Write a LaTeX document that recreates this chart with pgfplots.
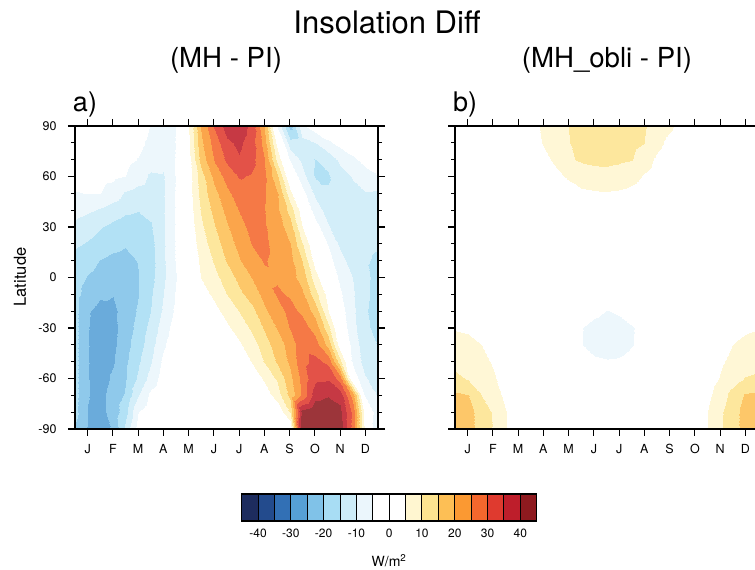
\documentclass[border=0pt]{standalone}
\usepackage{pgfplots}
\pgfplotsset{compat=1.18}
\usepackage{fontspec}
\setmainfont{TeX Gyre Heros}
\newcommand{\fs}[1]{\fontsize{#1}{#1}\selectfont}

\definecolor{c01}{HTML}{1D2C5E}
\definecolor{c02}{HTML}{234B8D}
\definecolor{c03}{HTML}{3270B5}
\definecolor{c04}{HTML}{56A0D6}
\definecolor{c05}{HTML}{80C2E8}
\definecolor{c06}{HTML}{A8DDF4}
\definecolor{c07}{HTML}{CDECF8}
\definecolor{c08}{HTML}{EBF6FC}
\definecolor{c09}{HTML}{FFFFFF}
\definecolor{c10}{HTML}{FFFFFF}
\definecolor{c11}{HTML}{FFF6D0}
\definecolor{c12}{HTML}{FDE490}
\definecolor{c13}{HTML}{FDBF55}
\definecolor{c14}{HTML}{FB9932}
\definecolor{c15}{HTML}{F4672D}
\definecolor{c16}{HTML}{DF3A2F}
\definecolor{c17}{HTML}{BE1E2B}
\definecolor{c18}{HTML}{8E1A1F}

\pgfplotsset{
  colormap={insobar}{color=(c01) color=(c02) color=(c03) color=(c04) color=(c05) color=(c06)
    color=(c07) color=(c08) color=(c09) color=(c10) color=(c11) color=(c12) color=(c13)
    color=(c14) color=(c15) color=(c16) color=(c17) color=(c18)},
  colormap={insopanel}{color=(c01!88!white) color=(c02!88!white) color=(c03!88!white)
    color=(c04!88!white) color=(c05!88!white) color=(c06!88!white) color=(c07!88!white)
    color=(c08!88!white) color=(c09) color=(c10) color=(c11!88!white) color=(c12!88!white)
    color=(c13!88!white) color=(c14!88!white) color=(c15!88!white) color=(c16!88!white)
    color=(c17!88!white) color=(c18!88!white)},
  inso panel/.style={
    anchor=south west, scale only axis, width=303pt, height=303pt,
    xmin=0, xmax=12, ymin=-90, ymax=90, enlargelimits=false,
    colormap name=insopanel, colormap access=piecewise constant,
    point meta min=-45, point meta max=45,
    axis on top, tick pos=both, tick align=outside,
    xtick={0.5,1.5,...,11.5}, xticklabels={J,F,M,A,M,J,J,A,S,O,N,D},
    ytick={-90,-60,...,90}, yticklabels={-90,-60,-30,0,30,60,90},
    minor ytick={-80,-70,-50,-40,-20,-10,10,20,40,50,70,80},
    major tick length=7pt, minor tick length=4pt,
    every tick/.style={black, line width=1.2pt},
    axis line style={black, line width=1.6pt},
    tick label style={font=\fs{12.5}},
    xticklabel style={yshift=-5pt}, yticklabel style={xshift=-8pt},
  },
  inso surf/.style={surf, shader=interp, mesh/rows=19, mesh/cols=25, point meta=explicit},
}

\begin{document}
\begin{tikzpicture}
\path[use as bounding box] (0pt,0pt) rectangle (755pt,570pt);

% a) MH - PI
\begin{axis}[inso panel, at={(75pt,141pt)}]
\addplot[inso surf] coordinates {
(0,-90)[-20.5] (0.5,-90)[-25.5] (1,-90)[-26.5] (1.5,-90)[-24.5] (2,-90)[-14] (2.5,-90)[-3] (3,-90)[-0.5] (3.5,-90)[0] (4,-90)[0] (4.5,-90)[0] (5,-90)[0] (5.5,-90)[0] (6,-90)[0] (6.5,-90)[0] (7,-90)[0] (7.5,-90)[0] (8,-90)[0] (8.5,-90)[0] (9,-90)[46] (9.5,-90)[48] (10,-90)[48] (10.5,-90)[43] (11,-90)[28] (11.5,-90)[3] (12,-90)[-11]
(0,-80)[-18.5] (0.5,-80)[-25.2] (1,-80)[-26.5] (1.5,-80)[-23] (2,-80)[-17] (2.5,-80)[-5.2] (3,-80)[-1.5] (3.5,-80)[-0.5] (4,-80)[0] (4.5,-80)[0] (5,-80)[0] (5.5,-80)[0] (6,-80)[0] (6.5,-80)[0] (7,-80)[0] (7.5,-80)[0] (8,-80)[0.5] (8.5,-80)[10.5] (9,-80)[42] (9.5,-80)[45] (10,-80)[45.5] (10.5,-80)[41.5] (11,-80)[28] (11.5,-80)[2] (12,-80)[-9]
(0,-70)[-18.5] (0.5,-70)[-24.8] (1,-70)[-26.5] (1.5,-70)[-23] (2,-70)[-19.5] (2.5,-70)[-10.5] (3,-70)[-3.5] (3.5,-70)[-1] (4,-70)[-0.2] (4.5,-70)[0] (5,-70)[0] (5.5,-70)[0] (6,-70)[0] (6.5,-70)[0] (7,-70)[0.5] (7.5,-70)[2] (8,-70)[7.5] (8.5,-70)[16.5] (9,-70)[26] (9.5,-70)[37.5] (10,-70)[39.5] (10.5,-70)[38] (11,-70)[22] (11.5,-70)[-5.5] (12,-70)[-10.5]
(0,-60)[-18.5] (0.5,-60)[-24.8] (1,-60)[-27.5] (1.5,-60)[-24] (2,-60)[-20.5] (2.5,-60)[-14.2] (3,-60)[-8] (3.5,-60)[-2.5] (4,-60)[-0.5] (4.5,-60)[0] (5,-60)[0] (5.5,-60)[0.2] (6,-60)[0.5] (6.5,-60)[1] (7,-60)[2.5] (7.5,-60)[5.5] (8,-60)[10.5] (8.5,-60)[18.5] (9,-60)[26.5] (9.5,-60)[34] (10,-60)[34.5] (10.5,-60)[28] (11,-60)[-1.5] (11.5,-60)[-9.5] (12,-60)[-12]
(0,-50)[-18.5] (0.5,-50)[-24.8] (1,-50)[-28] (1.5,-50)[-25.5] (2,-50)[-21] (2.5,-50)[-15.8] (3,-50)[-10.2] (3.5,-50)[-4] (4,-50)[-1] (4.5,-50)[0] (5,-50)[0.2] (5.5,-50)[0.5] (6,-50)[1] (6.5,-50)[2.2] (7,-50)[5.2] (7.5,-50)[10.2] (8,-50)[15.5] (8.5,-50)[21] (9,-50)[28.5] (9.5,-50)[31.5] (10,-50)[29] (10.5,-50)[12] (11,-50)[-6] (11.5,-50)[-12] (12,-50)[-13]
(0,-40)[-18.5] (0.5,-40)[-24.8] (1,-40)[-27.8] (1.5,-40)[-26] (2,-40)[-22] (2.5,-40)[-17.3] (3,-40)[-11.8] (3.5,-40)[-5.7] (4,-40)[-1.5] (4.5,-40)[0] (5,-40)[0.5] (5.5,-40)[1.2] (6,-40)[2.3] (6.5,-40)[4.3] (7,-40)[7.7] (7.5,-40)[12.5] (8,-40)[17.5] (8.5,-40)[22] (9,-40)[28.5] (9.5,-40)[27.5] (10,-40)[18.5] (10.5,-40)[2] (11,-40)[-7] (11.5,-40)[-13] (12,-40)[-15.2]
(0,-30)[-18.5] (0.5,-30)[-24.8] (1,-30)[-27.5] (1.5,-30)[-26.5] (2,-30)[-22.5] (2.5,-30)[-18.5] (3,-30)[-13.3] (3.5,-30)[-7.5] (4,-30)[-2.5] (4.5,-30)[0] (5,-30)[1] (5.5,-30)[2.3] (6,-30)[4.2] (6.5,-30)[6.8] (7,-30)[11] (7.5,-30)[15.5] (8,-30)[20.2] (8.5,-30)[25.2] (9,-30)[27.5] (9.5,-30)[23] (10,-30)[12] (10.5,-30)[-1] (11,-30)[-8.5] (11.5,-30)[-14] (12,-30)[-16.5]
(0,-20)[-18.5] (0.5,-20)[-24.5] (1,-20)[-26.5] (1.5,-20)[-26] (2,-20)[-23] (2.5,-20)[-19.5] (3,-20)[-14.8] (3.5,-20)[-9.3] (4,-20)[-3.8] (4.5,-20)[0] (5,-20)[1.5] (5.5,-20)[3.5] (6,-20)[6.8] (6.5,-20)[10.2] (7,-20)[13.5] (7.5,-20)[19] (8,-20)[23] (8.5,-20)[26.5] (9,-20)[24] (9.5,-20)[18] (10,-20)[5.2] (10.5,-20)[-2.5] (11,-20)[-9] (11.5,-20)[-14.5] (12,-20)[-17]
(0,-10)[-18.5] (0.5,-10)[-22] (1,-10)[-24.3] (1.5,-10)[-24.8] (2,-10)[-23] (2.5,-10)[-20.2] (3,-10)[-15.5] (3.5,-10)[-10.2] (4,-10)[-4.5] (4.5,-10)[0] (5,-10)[3] (5.5,-10)[6] (6,-10)[10.2] (6.5,-10)[13.8] (7,-10)[17.5] (7.5,-10)[21.5] (8,-10)[25.6] (8.5,-10)[24.5] (9,-10)[21] (9.5,-10)[12] (10,-10)[3] (10.5,-10)[-4.3] (11,-10)[-9.5] (11.5,-10)[-14] (12,-10)[-17]
(0,0)[-18] (0.5,0)[-20.3] (1,0)[-22] (1.5,0)[-23] (2,0)[-22.5] (2.5,0)[-20.2] (3,0)[-16.5] (3.5,0)[-11] (4,0)[-5.2] (4.5,0)[0.5] (5,0)[5.2] (5.5,0)[8.5] (6,0)[12.5] (6.5,0)[16.5] (7,0)[20.3] (7.5,0)[24] (8,0)[24.5] (8.5,0)[22] (9,0)[18] (9.5,0)[7] (10,0)[-1] (10.5,0)[-6] (11,0)[-10.2] (11.5,0)[-14] (12,0)[-16.5]
(0,10)[-16.5] (0.5,10)[-18] (1,10)[-20.2] (1.5,10)[-21.5] (2,10)[-21.8] (2.5,10)[-19.8] (3,10)[-16.8] (3.5,10)[-11] (4,10)[-4.5] (4.5,10)[1] (5,10)[6] (5.5,10)[10.5] (6,10)[15.5] (6.5,10)[19.5] (7,10)[23] (7.5,10)[25.3] (8,10)[24] (8.5,10)[21.5] (9,10)[15.2] (9.5,10)[3] (10,10)[-3] (10.5,10)[-8] (11,10)[-12.5] (11.5,10)[-14.5] (12,10)[-15.8]
(0,20)[-14.3] (0.5,20)[-15.5] (1,20)[-17] (1.5,20)[-18.5] (2,20)[-19.5] (2.5,20)[-19] (3,20)[-16.5] (3.5,20)[-10.8] (4,20)[-4.5] (4.5,20)[1.5] (5,20)[7.5] (5.5,20)[12.5] (6,20)[17.5] (6.5,20)[21.5] (7,20)[25.2] (7.5,20)[25.8] (8,20)[23.5] (8.5,20)[20.2] (9,20)[10.5] (9.5,20)[0] (10,20)[-5.2] (10.5,20)[-11] (11,20)[-13] (11.5,20)[-14] (12,20)[-14.5]
(0,30)[-11.5] (0.5,30)[-13] (1,30)[-14.7] (1.5,30)[-16.3] (2,30)[-17.5] (2.5,30)[-17.5] (3,30)[-15.5] (3.5,30)[-10.5] (4,30)[-4.5] (4.5,30)[2] (5,30)[9] (5.5,30)[14.5] (6,30)[19.5] (6.5,30)[23.5] (7,30)[26.3] (7.5,30)[25.5] (8,30)[22.5] (8.5,30)[17.5] (9,30)[5.2] (9.5,30)[-2.5] (10,30)[-9.5] (10.5,30)[-12.5] (11,30)[-13] (11.5,30)[-13] (12,30)[-13]
(0,40)[-8] (0.5,40)[-9.2] (1,40)[-10.5] (1.5,40)[-12.5] (2,40)[-14] (2.5,40)[-14.8] (3,40)[-13.8] (3.5,40)[-10.5] (4,40)[-4.5] (4.5,40)[2.5] (5,40)[10.5] (5.5,40)[16.5] (6,40)[21.5] (6.5,40)[25.2] (7,40)[26.8] (7.5,40)[25.2] (8,40)[21] (8.5,40)[13] (9,40)[2] (9.5,40)[-7.5] (10,40)[-12] (10.5,40)[-13] (11,40)[-12.5] (11.5,40)[-11.5] (12,40)[-11]
(0,50)[-5.3] (0.5,50)[-4.8] (1,50)[-4.9] (1.5,50)[-7] (2,50)[-10.5] (2.5,50)[-12] (3,50)[-12.5] (3.5,50)[-10.5] (4,50)[-4.5] (4.5,50)[3] (5,50)[12] (5.5,50)[18.5] (6,50)[24] (6.5,50)[27.5] (7,50)[27.8] (7.5,50)[25.5] (8,50)[20.5] (8.5,50)[6.5] (9,50)[-3] (9.5,50)[-11] (10,50)[-14.5] (10.5,50)[-13] (11,50)[-11.5] (11.5,50)[-10.2] (12,50)[-10.5]
(0,60)[-3] (0.5,60)[-3] (1,60)[-3.5] (1.5,60)[-4] (2,60)[-4.9] (2.5,60)[-7.5] (3,60)[-11] (3.5,60)[-10.5] (4,60)[-4.6] (4.5,60)[3] (5,60)[13] (5.5,60)[21.5] (6,60)[27] (6.5,60)[30.5] (7,60)[29.5] (7.5,60)[26] (8,60)[16] (8.5,60)[0] (9,60)[-8] (9.5,60)[-15.5] (10,60)[-15.5] (10.5,60)[-12] (11,60)[-9.5] (11.5,60)[-7] (12,60)[-5.2]
(0,70)[-2] (0.5,70)[-2] (1,70)[-2.5] (1.5,70)[-3] (2,70)[-3.8] (2.5,70)[-5.2] (3,70)[-7] (3.5,70)[-8.5] (4,70)[-4.7] (4.5,70)[3.5] (5,70)[17] (5.5,70)[25.2] (6,70)[31] (6.5,70)[34.5] (7,70)[31.5] (7.5,70)[25.5] (8,70)[9] (8.5,70)[-5.2] (9,70)[-11] (9.5,70)[-15.2] (10,70)[-13.5] (10.5,70)[-9] (11,70)[-6] (11.5,70)[-3.5] (12,70)[-2.5]
(0,80)[-1.5] (0.5,80)[-1.5] (1,80)[-2] (1.5,80)[-2.5] (2,80)[-3] (2.5,80)[-4] (3,80)[-6] (3.5,80)[-8] (4,80)[-4.8] (4.5,80)[4.8] (5,80)[19] (5.5,80)[27] (6,80)[34] (6.5,80)[36] (7,80)[32] (7.5,80)[23] (8,80)[3.5] (8.5,80)[-13] (9,80)[-12] (9.5,80)[-10.2] (10,80)[-6] (10.5,80)[-3.5] (11,80)[-2] (11.5,80)[-1.5] (12,80)[-1]
(0,90)[-1] (0.5,90)[-1] (1,90)[-1] (1.5,90)[-1.5] (2,90)[-2] (2.5,90)[-3] (3,90)[-5.2] (3.5,90)[-7.5] (4,90)[-4.8] (4.5,90)[5.2] (5,90)[20.5] (5.5,90)[30.5] (6,90)[37.5] (6.5,90)[38.5] (7,90)[33] (7.5,90)[20.2] (8,90)[-5.2] (8.5,90)[-22] (9,90)[-6] (9.5,90)[-2] (10,90)[-1] (10.5,90)[-0.5] (11,90)[-0.5] (11.5,90)[-0.5] (12,90)[-0.5]
};
\end{axis}

% b) MH_obli - PI
\begin{axis}[inso panel, at={(455pt,141pt)}, yticklabels={}]
\addplot[inso surf] coordinates {
(0,-90)[18.5] (0.5,-90)[17] (1,-90)[13.5] (1.5,-90)[9.8] (2,-90)[5.3] (2.5,-90)[1.5] (3,-90)[0] (3.5,-90)[0] (4,-90)[0] (4.5,-90)[0] (5,-90)[0] (5.5,-90)[0] (6,-90)[0] (6.5,-90)[0] (7,-90)[0] (7.5,-90)[0] (8,-90)[0] (8.5,-90)[0] (9,-90)[0] (9.5,-90)[1.5] (10,-90)[5.2] (10.5,-90)[9.3] (11,-90)[13] (11.5,-90)[17] (12,-90)[18.5]
(0,-80)[18] (0.5,-80)[16.5] (1,-80)[13.5] (1.5,-80)[9.5] (2,-80)[5.1] (2.5,-80)[2] (3,-80)[0] (3.5,-80)[0] (4,-80)[0] (4.5,-80)[0] (5,-80)[0] (5.5,-80)[0] (6,-80)[0] (6.5,-80)[0] (7,-80)[0] (7.5,-80)[0] (8,-80)[0] (8.5,-80)[0] (9,-80)[0] (9.5,-80)[1.5] (10,-80)[5.2] (10.5,-80)[9.2] (11,-80)[13] (11.5,-80)[17] (12,-80)[18]
(0,-70)[16] (0.5,-70)[15.1] (1,-70)[10.3] (1.5,-70)[6.8] (2,-70)[4] (2.5,-70)[1.5] (3,-70)[0] (3.5,-70)[0] (4,-70)[0] (4.5,-70)[0] (5,-70)[0] (5.5,-70)[0] (6,-70)[0] (6.5,-70)[0] (7,-70)[0] (7.5,-70)[0] (8,-70)[0] (8.5,-70)[0] (9,-70)[0] (9.5,-70)[1] (10,-70)[4] (10.5,-70)[7.5] (11,-70)[12] (11.5,-70)[15.5] (12,-70)[16]
(0,-60)[11] (0.5,-60)[9.8] (1,-60)[8] (1.5,-60)[5.6] (2,-60)[3.3] (2.5,-60)[1.5] (3,-60)[0] (3.5,-60)[0] (4,-60)[0] (4.5,-60)[0] (5,-60)[0] (5.5,-60)[0] (6,-60)[0] (6.5,-60)[0] (7,-60)[0] (7.5,-60)[0] (8,-60)[0] (8.5,-60)[0] (9,-60)[0] (9.5,-60)[0] (10,-60)[3] (10.5,-60)[5.3] (11,-60)[7.8] (11.5,-60)[10.3] (12,-60)[11]
(0,-50)[8.8] (0.5,-50)[8] (1,-50)[6.5] (1.5,-50)[4.6] (2,-50)[2.8] (2.5,-50)[1.2] (3,-50)[0] (3.5,-50)[0] (4,-50)[0] (4.5,-50)[0] (5,-50)[-4] (5.5,-50)[-4.6] (6,-50)[-4.8] (6.5,-50)[-4.7] (7,-50)[-4.2] (7.5,-50)[-2] (8,-50)[0] (8.5,-50)[0] (9,-50)[0] (9.5,-50)[0] (10,-50)[2.5] (10.5,-50)[4.3] (11,-50)[6.3] (11.5,-50)[7.8] (12,-50)[8.8]
(0,-40)[7] (0.5,-40)[6.3] (1,-40)[5.2] (1.5,-40)[3.5] (2,-40)[2] (2.5,-40)[1] (3,-40)[0] (3.5,-40)[0] (4,-40)[0] (4.5,-40)[-3.8] (5,-40)[-4.9] (5.5,-40)[-5.7] (6,-40)[-6] (6.5,-40)[-5.8] (7,-40)[-5.1] (7.5,-40)[-4] (8,-40)[-2] (8.5,-40)[0] (9,-40)[0] (9.5,-40)[0] (10,-40)[1.5] (10.5,-40)[3] (11,-40)[5.1] (11.5,-40)[6.3] (12,-40)[7]
(0,-30)[4.7] (0.5,-30)[4.3] (1,-30)[3.5] (1.5,-30)[2.2] (2,-30)[1] (2.5,-30)[0] (3,-30)[0] (3.5,-30)[0] (4,-30)[0] (4.5,-30)[-3.8] (5,-30)[-4.9] (5.5,-30)[-5.8] (6,-30)[-6.3] (6.5,-30)[-6.1] (7,-30)[-5.2] (7.5,-30)[-4.2] (8,-30)[-2.5] (8.5,-30)[0] (9,-30)[0] (9.5,-30)[0] (10,-30)[0] (10.5,-30)[1.5] (11,-30)[3] (11.5,-30)[4.2] (12,-30)[4.7]
(0,-20)[1.5] (0.5,-20)[1.2] (1,-20)[0.8] (1.5,-20)[0] (2,-20)[0] (2.5,-20)[0] (3,-20)[0] (3.5,-20)[0] (4,-20)[0] (4.5,-20)[-2] (5,-20)[-3.5] (5.5,-20)[-4.3] (6,-20)[-5.1] (6.5,-20)[-4.6] (7,-20)[-3.5] (7.5,-20)[-2] (8,-20)[0] (8.5,-20)[0] (9,-20)[0] (9.5,-20)[0] (10,-20)[0] (10.5,-20)[0] (11,-20)[0] (11.5,-20)[1] (12,-20)[1.5]
(0,-10)[0] (0.5,-10)[0] (1,-10)[0] (1.5,-10)[0] (2,-10)[0] (2.5,-10)[0] (3,-10)[0] (3.5,-10)[0] (4,-10)[0] (4.5,-10)[0] (5,-10)[0] (5.5,-10)[-2] (6,-10)[-2.5] (6.5,-10)[-2] (7,-10)[0] (7.5,-10)[0] (8,-10)[0] (8.5,-10)[0] (9,-10)[0] (9.5,-10)[0] (10,-10)[0] (10.5,-10)[0] (11,-10)[0] (11.5,-10)[0] (12,-10)[0]
(0,0)[0] (0.5,0)[0] (1,0)[0] (1.5,0)[0] (2,0)[0] (2.5,0)[0] (3,0)[0] (3.5,0)[0] (4,0)[0] (4.5,0)[0] (5,0)[0] (5.5,0)[0] (6,0)[0] (6.5,0)[0] (7,0)[0] (7.5,0)[0] (8,0)[0] (8.5,0)[0] (9,0)[0] (9.5,0)[0] (10,0)[0] (10.5,0)[0] (11,0)[0] (11.5,0)[0] (12,0)[0]
(0,10)[0] (0.5,10)[0] (1,10)[0] (1.5,10)[0] (2,10)[0] (2.5,10)[0] (3,10)[0] (3.5,10)[0] (4,10)[0] (4.5,10)[0] (5,10)[0] (5.5,10)[0] (6,10)[0] (6.5,10)[0] (7,10)[0] (7.5,10)[0] (8,10)[0] (8.5,10)[0] (9,10)[0] (9.5,10)[0] (10,10)[0] (10.5,10)[0] (11,10)[0] (11.5,10)[0] (12,10)[0]
(0,20)[0] (0.5,20)[0] (1,20)[0] (1.5,20)[0] (2,20)[0] (2.5,20)[0] (3,20)[0] (3.5,20)[0] (4,20)[0] (4.5,20)[0] (5,20)[0] (5.5,20)[0] (6,20)[0] (6.5,20)[0] (7,20)[0] (7.5,20)[0] (8,20)[0] (8.5,20)[0] (9,20)[0] (9.5,20)[0] (10,20)[0] (10.5,20)[0] (11,20)[0] (11.5,20)[0] (12,20)[0]
(0,30)[0] (0.5,30)[0] (1,30)[0] (1.5,30)[0] (2,30)[0] (2.5,30)[0] (3,30)[0] (3.5,30)[0] (4,30)[0] (4.5,30)[0] (5,30)[0] (5.5,30)[0] (6,30)[0] (6.5,30)[0] (7,30)[0] (7.5,30)[0] (8,30)[0] (8.5,30)[0] (9,30)[0] (9.5,30)[0] (10,30)[0] (10.5,30)[0] (11,30)[0] (11.5,30)[0] (12,30)[0]
(0,40)[0] (0.5,40)[0] (1,40)[0] (1.5,40)[0] (2,40)[0] (2.5,40)[0] (3,40)[0] (3.5,40)[0] (4,40)[0] (4.5,40)[0] (5,40)[0.5] (5.5,40)[1] (6,40)[1] (6.5,40)[1] (7,40)[0.5] (7.5,40)[0] (8,40)[0] (8.5,40)[0] (9,40)[0] (9.5,40)[0] (10,40)[0] (10.5,40)[0] (11,40)[0] (11.5,40)[0] (12,40)[0]
(0,50)[0] (0.5,50)[0] (1,50)[0] (1.5,50)[0] (2,50)[0] (2.5,50)[0] (3,50)[0] (3.5,50)[0] (4,50)[1.5] (4.5,50)[3] (5,50)[4] (5.5,50)[4.5] (6,50)[4.6] (6.5,50)[4.3] (7,50)[3.5] (7.5,50)[2.2] (8,50)[1] (8.5,50)[0] (9,50)[0] (9.5,50)[0] (10,50)[0] (10.5,50)[0] (11,50)[0] (11.5,50)[0] (12,50)[0]
(0,60)[0] (0.5,60)[0] (1,60)[0] (1.5,60)[0] (2,60)[0] (2.5,60)[0] (3,60)[0] (3.5,60)[1.5] (4,60)[3.8] (4.5,60)[5.8] (5,60)[7.5] (5.5,60)[8.5] (6,60)[8.7] (6.5,60)[8.2] (7,60)[6.8] (7.5,60)[4.6] (8,60)[2.5] (8.5,60)[0.5] (9,60)[0] (9.5,60)[0] (10,60)[0] (10.5,60)[0] (11,60)[0] (11.5,60)[0] (12,60)[0]
(0,70)[0] (0.5,70)[0] (1,70)[0] (1.5,70)[0] (2,70)[0] (2.5,70)[0] (3,70)[1] (3.5,70)[3.5] (4,70)[6] (4.5,70)[9.6] (5,70)[10.4] (5.5,70)[10.8] (6,70)[10.9] (6.5,70)[10.6] (7,70)[10.1] (7.5,70)[7.5] (8,70)[4] (8.5,70)[1.5] (9,70)[0] (9.5,70)[0] (10,70)[0] (10.5,70)[0] (11,70)[0] (11.5,70)[0] (12,70)[0]
(0,80)[0] (0.5,80)[0] (1,80)[0] (1.5,80)[0] (2,80)[0] (2.5,80)[0.5] (3,80)[2.5] (3.5,80)[5.3] (4,80)[8] (4.5,80)[9.9] (5,80)[11.5] (5.5,80)[12.3] (6,80)[12.5] (6.5,80)[12.2] (7,80)[11.3] (7.5,80)[10.1] (8,80)[6.5] (8.5,80)[3.5] (9,80)[1] (9.5,80)[0] (10,80)[0] (10.5,80)[0] (11,80)[0] (11.5,80)[0] (12,80)[0]
(0,90)[0] (0.5,90)[0] (1,90)[0] (1.5,90)[0] (2,90)[0] (2.5,90)[0.5] (3,90)[3] (3.5,90)[6] (4,90)[8.5] (4.5,90)[10.1] (5,90)[12] (5.5,90)[13] (6,90)[13.5] (6.5,90)[13] (7,90)[12] (7.5,90)[10.5] (8,90)[8] (8.5,90)[6] (9,90)[2.5] (9.5,90)[0.5] (10,90)[0] (10.5,90)[0] (11,90)[0] (11.5,90)[0] (12,90)[0]
};
\end{axis}

% colour bar
\begin{axis}[at={(241.7pt,49pt)}, anchor=south west, scale only axis, width=295pt, height=27pt,
  xmin=-45, xmax=45, ymin=0, ymax=1, enlargelimits=false,
  colormap name=insobar, colormap access=piecewise constant,
  point meta min=-45, point meta max=45,
  axis on top, xtick={-45,-40,...,45},
  xticklabels={{},-40,{},-30,{},-20,{},-10,{},0,{},10,{},20,{},30,{},40,{}},
  ytick=\empty, major tick length=0pt,
  xmajorgrids, major grid style={black, line width=1pt},
  axis line style={black, line width=1.2pt},
  tick label style={font=\fs{12}}, xticklabel style={yshift=-4pt},
]
\addplot[surf, shader=flat mean, mesh/rows=2, mesh/cols=19, point meta=x] coordinates {
(-45,0) (-40,0) (-35,0) (-30,0) (-25,0) (-20,0) (-15,0) (-10,0) (-5,0) (0,0) (5,0) (10,0) (15,0) (20,0) (25,0) (30,0) (35,0) (40,0) (45,0)
(-45,1) (-40,1) (-35,1) (-30,1) (-25,1) (-20,1) (-15,1) (-10,1) (-5,1) (0,1) (5,1) (10,1) (15,1) (20,1) (25,1) (30,1) (35,1) (40,1) (45,1)
};
\end{axis}

\node[font=\fs{31}] at (387pt,548pt) {Insolation Diff};
\node[font=\fs{27.6}] at (226pt,510pt) {(MH - PI)};
\node[font=\fs{27.6}] at (607pt,510pt) {(MH\_obli - PI)};
\node[font=\fs{27}] at (85pt,465pt) {a)};
\node[font=\fs{27}] at (465pt,465pt) {b)};
\node[font=\fs{16.5}, rotate=90] at (20pt,293pt) {Latitude};
\node[font=\fs{14}] at (389pt,9pt) {W/m\textsuperscript{2}};
\end{tikzpicture}
\end{document}
